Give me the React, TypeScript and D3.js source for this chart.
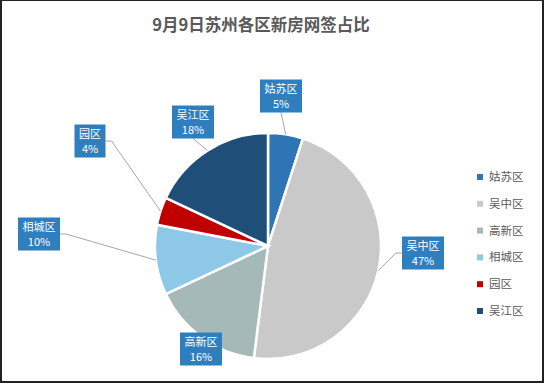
import React from 'react';
import * as d3 from 'd3';

const districts = ['姑苏区', '吴中区', '高新区', '相城区', '园区', '吴江区'];
const shares = [5, 47, 16, 10, 4, 18];
const colors = ['#2E75B6', '#C9C9C9', '#A5B9B9', '#8DC9E6', '#C00000', '#1F4E79'];
// label box centres, placed by hand like the original
const labelPos: [number, number][] = [
  [281, 96],
  [423, 253],
  [201, 349],
  [39, 234],
  [90, 141],
  [193, 122],
];

const W = 545;
const H = 392;
const cx = 268;
const cy = 246;
const radius = 113;
const font = '"Noto Sans CJK SC", "Microsoft YaHei", sans-serif';

const App = () => {
  const pie = d3.pie<number>().sort(null).value(d => d);
  const arcs = pie(shares);
  const arc = d3.arc<d3.PieArcDatum<number>>().innerRadius(0).outerRadius(radius);

  const legendY = d3.scalePoint<string>().domain(districts).range([177, 311]);

  return (
    <svg
      width={W}
      height={H}
      style={{ position: 'absolute', left: 0, top: 0, background: '#fff' }}
    >
      <rect x={1} y={0} width={542} height={382} fill="#fff" stroke="#222" strokeWidth={2} />
      <text
        x={261}
        y={31}
        textAnchor="middle"
        fontFamily={font}
        fontSize={16.5}
        fontWeight="bold"
        fill="#595959"
      >
        9月9日苏州各区新房网签占比
      </text>

      <g transform={`translate(${cx},${cy})`}>
        {arcs.map((a, i) => (
          <path key={i} d={arc(a) || ''} fill={colors[i]} stroke="#fff" strokeWidth={2.5} />
        ))}
      </g>

      {/* leader lines */}
      {arcs.map((a, i) => {
        const mid = (a.startAngle + a.endAngle) / 2;
        const ex = cx + radius * Math.sin(mid);
        const ey = cy - radius * Math.cos(mid);
        const [bx, by] = labelPos[i];
        const w = districts[i].length * 11 + 9;
        const h = 33;
        if (ex > bx - w / 2 && ex < bx + w / 2 && ey > by - h / 2 && ey < by + h / 2) return null;
        let sx: number, sy: number;
        let pts: [number, number][];
        if (Math.abs(ey - by) > h / 2 + 2 && Math.abs(ex - bx) < w / 2 + 8) {
          sx = bx;
          sy = ey > by ? by + h / 2 : by - h / 2;
          pts = [[sx, sy], [ex, ey]];
        } else {
          sx = ex > bx ? bx + w / 2 : bx - w / 2;
          sy = by;
          const kx = ex > bx ? sx + 6 : sx - 6;
          pts = [[sx, sy], [kx, sy], [ex, ey]];
        }
        return (
          <path
            key={i}
            d={d3.line()(pts) || ''}
            fill="none"
            stroke="#A6A6A6"
            strokeWidth={1}
          />
        );
      })}

      {/* data labels */}
      {arcs.map((a, i) => {
        const [bx, by] = labelPos[i];
        const w = districts[i].length * 11 + 9;
        const h = 33;
        return (
          <g key={i}>
            <rect x={bx - w / 2} y={by - h / 2} width={w} height={h} fill="#2F7EBE" />
            <text x={bx} y={by - 3} textAnchor="middle" fontFamily={font} fontSize={11} fill="#fff">
              {districts[i]}
            </text>
            <text x={bx} y={by + 12} textAnchor="middle" fontFamily={font} fontSize={11} fill="#fff">
              {`${a.data}%`}
            </text>
          </g>
        );
      })}

      {/* legend */}
      {districts.map((d, i) => (
        <g key={d}>
          <rect x={477} y={(legendY(d) || 0) - 3} width={6} height={6} fill={colors[i]} />
          <text
            x={489}
            y={(legendY(d) || 0) + 4}
            fontFamily={font}
            fontSize={11.5}
            fill="#595959"
          >
            {d}
          </text>
        </g>
      ))}
    </svg>
  );
};

export default App;
